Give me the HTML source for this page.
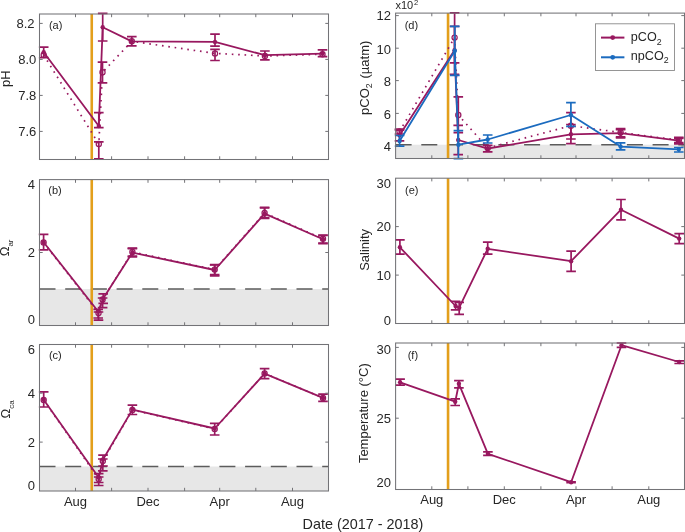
<!DOCTYPE html>
<html><head><meta charset="utf-8"><style>html,body{margin:0;padding:0;background:#fff;}svg{display:block;will-change:transform;}</style></head>
<body>
<svg width="685" height="532" viewBox="0 0 685 532">
<style>text{font-family:"Liberation Sans",sans-serif;fill:#262626}.t{font-size:13px}.pl{font-size:11px}.yl{font-size:13px}</style>
<rect width="685" height="532" fill="#fff"/>
<line x1="91.75" y1="14" x2="91.75" y2="159.5" stroke="#e39f1b" stroke-width="2.6"/>
<path d="M98.8 141.9V158.8M94 141.9H103.6M94 158.8H103.6M102.5 62.1V82.8M97.7 62.1H107.3M97.7 82.8H107.3M215 49.4V60.5M210.2 49.4H219.8M210.2 60.5H219.8" stroke="#98185f" stroke-width="1.7" fill="none"/>
<polyline points="43.7,55 98.8,144 102.5,72.3 131.8,41.3 215,53.4 264.9,56 322.5,54.2" stroke="#98185f" stroke-width="1.7" fill="none" stroke-dasharray="1.6 4.8" />
<circle cx="43.7" cy="55" r="2.6" fill="none" stroke="#98185f" stroke-width="1.2"/>
<circle cx="98.8" cy="144" r="2.6" fill="none" stroke="#98185f" stroke-width="1.2"/>
<circle cx="102.5" cy="72.3" r="2.6" fill="none" stroke="#98185f" stroke-width="1.2"/>
<circle cx="131.8" cy="41.3" r="2.6" fill="none" stroke="#98185f" stroke-width="1.2"/>
<circle cx="215" cy="53.4" r="2.6" fill="none" stroke="#98185f" stroke-width="1.2"/>
<circle cx="264.9" cy="56" r="2.6" fill="none" stroke="#98185f" stroke-width="1.2"/>
<circle cx="322.5" cy="54.2" r="2.6" fill="none" stroke="#98185f" stroke-width="1.2"/>
<path d="M43.7 47.1V57.6M38.9 47.1H48.5M38.9 57.6H48.5M98.8 112.6V127.6M94 112.6H103.6M94 127.6H103.6M102.7 13.4V41M97.9 13.4H107.5M97.9 41H107.5M131.8 36.7V45.9M127 36.7H136.6M127 45.9H136.6M215 34.1V46.1M210.2 34.1H219.8M210.2 46.1H219.8M264.9 51V59.8M260.1 51H269.7M260.1 59.8H269.7M322.5 49.9V56.7M317.7 49.9H327.3M317.7 56.7H327.3" stroke="#98185f" stroke-width="1.7" fill="none"/>
<polyline points="43.7,52.2 98.8,126 102.7,27.2 131.8,41.4 215,41.9 264.9,55.2 322.5,53.6" stroke="#98185f" stroke-width="1.8" fill="none" stroke-linejoin="round"/>
<circle cx="43.7" cy="52.2" r="2.2" fill="#98185f"/>
<circle cx="98.8" cy="126" r="2.2" fill="#98185f"/>
<circle cx="102.7" cy="27.2" r="2.2" fill="#98185f"/>
<circle cx="131.8" cy="41.4" r="2.2" fill="#98185f"/>
<circle cx="215" cy="41.9" r="2.2" fill="#98185f"/>
<circle cx="264.9" cy="55.2" r="2.2" fill="#98185f"/>
<circle cx="322.5" cy="53.6" r="2.2" fill="#98185f"/>
<path d="M75.5 159.5V156.3M75.5 14V17.2M111.6 159.5V156.3M111.6 14V17.2M148 159.5V156.3M148 14V17.2M184.6 159.5V156.3M184.6 14V17.2M219.7 159.5V156.3M219.7 14V17.2M255.8 159.5V156.3M255.8 14V17.2M292.5 159.5V156.3M292.5 14V17.2M39.5 23.4H42.7M328.5 23.4H325.3M39.5 59.4H42.7M328.5 59.4H325.3M39.5 95.4H42.7M328.5 95.4H325.3M39.5 131.4H42.7M328.5 131.4H325.3" stroke="#737377" stroke-width="1" fill="none"/>
<rect x="39.5" y="14" width="289" height="145.5" fill="none" stroke="#737377" stroke-width="1.05"/>
<text x="34.6" y="27.55" text-anchor="end" class="t">8.2</text>
<text x="36.3" y="63.65" text-anchor="end" class="t">8.0</text>
<text x="36.3" y="99.85" text-anchor="end" class="t">7.8</text>
<text x="36.3" y="135.85" text-anchor="end" class="t">7.6</text>
<text x="48.9" y="28.6" class="pl">(a)</text>
<rect x="39.5" y="289" width="289" height="36.5" fill="#e7e7e7"/>
<line x1="39.5" y1="289" x2="328.5" y2="289" stroke="#5c5c5c" stroke-width="1.4" stroke-dasharray="16 9.7"/>
<line x1="91.75" y1="179.6" x2="91.75" y2="325.5" stroke="#e39f1b" stroke-width="2.6"/>
<path d="M98.5 312V320.2M93.7 312H103.3M93.7 320.2H103.3M102.6 298V307.7M97.8 298H107.4M97.8 307.7H107.4M132.4 248.2V256M127.6 248.2H137.2M127.6 256H137.2M214.7 264.6V274.6M209.9 264.6H219.5M209.9 274.6H219.5M264.6 207.3V217.6M259.8 207.3H269.4M259.8 217.6H269.4M323 235V243M318.2 235H327.8M318.2 243H327.8" stroke="#98185f" stroke-width="1.7" fill="none"/>
<polyline points="43.6,242.5 98.5,313 102.6,299.5 132.4,252 214.7,269.6 264.6,213 323,238.8" stroke="#98185f" stroke-width="1.7" fill="none" stroke-dasharray="1.6 4.8" />
<circle cx="43.6" cy="242.5" r="2.6" fill="none" stroke="#98185f" stroke-width="1.2"/>
<circle cx="98.5" cy="313" r="2.6" fill="none" stroke="#98185f" stroke-width="1.2"/>
<circle cx="102.6" cy="299.5" r="2.6" fill="none" stroke="#98185f" stroke-width="1.2"/>
<circle cx="132.4" cy="252" r="2.6" fill="none" stroke="#98185f" stroke-width="1.2"/>
<circle cx="214.7" cy="269.6" r="2.6" fill="none" stroke="#98185f" stroke-width="1.2"/>
<circle cx="264.6" cy="213" r="2.6" fill="none" stroke="#98185f" stroke-width="1.2"/>
<circle cx="323" cy="238.8" r="2.6" fill="none" stroke="#98185f" stroke-width="1.2"/>
<path d="M43.6 234.3V249.8M38.8 234.3H48.4M38.8 249.8H48.4M98.2 309.4V318M93.4 309.4H103M93.4 318H103M103.2 293.8V303.3M98.4 293.8H108M98.4 303.3H108M132.4 248.7V256.8M127.6 248.7H137.2M127.6 256.8H137.2M214.7 265V275.8M209.9 265H219.5M209.9 275.8H219.5M264.6 207.8V218.3M259.8 207.8H269.4M259.8 218.3H269.4M323 235.5V243.7M318.2 235.5H327.8M318.2 243.7H327.8" stroke="#98185f" stroke-width="1.7" fill="none"/>
<polyline points="43.6,242.2 98.2,311.5 103.2,298.6 132.4,252.6 214.7,270 264.6,213.6 323,239.3" stroke="#98185f" stroke-width="1.8" fill="none" stroke-linejoin="round"/>
<circle cx="43.6" cy="242.2" r="2.2" fill="#98185f"/>
<circle cx="98.2" cy="311.5" r="2.2" fill="#98185f"/>
<circle cx="103.2" cy="298.6" r="2.2" fill="#98185f"/>
<circle cx="132.4" cy="252.6" r="2.2" fill="#98185f"/>
<circle cx="214.7" cy="270" r="2.2" fill="#98185f"/>
<circle cx="264.6" cy="213.6" r="2.2" fill="#98185f"/>
<circle cx="323" cy="239.3" r="2.2" fill="#98185f"/>
<path d="M75.5 325.5V322.3M75.5 179.6V182.8M111.6 325.5V322.3M111.6 179.6V182.8M148 325.5V322.3M148 179.6V182.8M184.6 325.5V322.3M184.6 179.6V182.8M219.7 325.5V322.3M219.7 179.6V182.8M255.8 325.5V322.3M255.8 179.6V182.8M292.5 325.5V322.3M292.5 179.6V182.8M39.5 252.5H42.7M328.5 252.5H325.3" stroke="#737377" stroke-width="1" fill="none"/>
<rect x="39.5" y="179.6" width="289" height="145.9" fill="none" stroke="#737377" stroke-width="1.05"/>
<text x="35" y="188.65" text-anchor="end" class="t">4</text>
<text x="35" y="256.85" text-anchor="end" class="t">2</text>
<text x="35" y="323.95" text-anchor="end" class="t">0</text>
<text x="48.3" y="194.3" class="pl">(b)</text>
<rect x="39.5" y="466.5" width="289" height="24.5" fill="#e7e7e7"/>
<line x1="39.5" y1="466.5" x2="328.5" y2="466.5" stroke="#5c5c5c" stroke-width="1.4" stroke-dasharray="16 9.7"/>
<line x1="91.75" y1="344.5" x2="91.75" y2="491" stroke="#e39f1b" stroke-width="2.6"/>
<path d="M98.7 477V485.5M93.9 477H103.5M93.9 485.5H103.5M102.8 459V470.8M98 459H107.6M98 470.8H107.6" stroke="#98185f" stroke-width="1.7" fill="none"/>
<polyline points="43.7,400 98.7,479 102.8,461 132.4,409.9 214.7,428.9 264.6,373.4 323,397.9" stroke="#98185f" stroke-width="1.7" fill="none" stroke-dasharray="1.6 4.8" />
<circle cx="43.7" cy="400" r="2.6" fill="none" stroke="#98185f" stroke-width="1.2"/>
<circle cx="98.7" cy="479" r="2.6" fill="none" stroke="#98185f" stroke-width="1.2"/>
<circle cx="102.8" cy="461" r="2.6" fill="none" stroke="#98185f" stroke-width="1.2"/>
<circle cx="132.4" cy="409.9" r="2.6" fill="none" stroke="#98185f" stroke-width="1.2"/>
<circle cx="214.7" cy="428.9" r="2.6" fill="none" stroke="#98185f" stroke-width="1.2"/>
<circle cx="264.6" cy="373.4" r="2.6" fill="none" stroke="#98185f" stroke-width="1.2"/>
<circle cx="323" cy="397.9" r="2.6" fill="none" stroke="#98185f" stroke-width="1.2"/>
<path d="M43.7 391.8V407M38.9 391.8H48.5M38.9 407H48.5M98.7 473.7V482.5M93.9 473.7H103.5M93.9 482.5H103.5M103 455.2V466M98.2 455.2H107.8M98.2 466H107.8M132.4 405.2V414.5M127.6 405.2H137.2M127.6 414.5H137.2M214.7 423.3V435M209.9 423.3H219.5M209.9 435H219.5M264.6 368.7V378.6M259.8 368.7H269.4M259.8 378.6H269.4M323 394.1V401.4M318.2 394.1H327.8M318.2 401.4H327.8" stroke="#98185f" stroke-width="1.7" fill="none"/>
<polyline points="43.7,399.7 98.7,477.5 103,459.5 132.4,409.6 214.7,428.5 264.6,373.7 323,397.9" stroke="#98185f" stroke-width="1.8" fill="none" stroke-linejoin="round"/>
<circle cx="43.7" cy="399.7" r="2.2" fill="#98185f"/>
<circle cx="98.7" cy="477.5" r="2.2" fill="#98185f"/>
<circle cx="103" cy="459.5" r="2.2" fill="#98185f"/>
<circle cx="132.4" cy="409.6" r="2.2" fill="#98185f"/>
<circle cx="214.7" cy="428.5" r="2.2" fill="#98185f"/>
<circle cx="264.6" cy="373.7" r="2.2" fill="#98185f"/>
<circle cx="323" cy="397.9" r="2.2" fill="#98185f"/>
<path d="M75.5 491V487.8M75.5 344.5V347.7M111.6 491V487.8M111.6 344.5V347.7M148 491V487.8M148 344.5V347.7M184.6 491V487.8M184.6 344.5V347.7M219.7 491V487.8M219.7 344.5V347.7M255.8 491V487.8M255.8 344.5V347.7M292.5 491V487.8M292.5 344.5V347.7M39.5 393.2H42.7M328.5 393.2H325.3M39.5 442.1H42.7M328.5 442.1H325.3" stroke="#737377" stroke-width="1" fill="none"/>
<rect x="39.5" y="344.5" width="289" height="146.5" fill="none" stroke="#737377" stroke-width="1.05"/>
<text x="35" y="353.95" text-anchor="end" class="t">6</text>
<text x="35" y="397.85" text-anchor="end" class="t">4</text>
<text x="35" y="446.55" text-anchor="end" class="t">2</text>
<text x="35" y="490.05" text-anchor="end" class="t">0</text>
<text x="48.9" y="359.4" class="pl">(c)</text>
<rect x="395.6" y="144.7" width="288.9" height="13.8" fill="#e7e7e7"/>
<line x1="395.6" y1="144.7" x2="684.5" y2="144.7" stroke="#5c5c5c" stroke-width="1.4" stroke-dasharray="16 9.7"/>
<line x1="448.05" y1="13.1" x2="448.05" y2="158.5" stroke="#e39f1b" stroke-width="2.6"/>
<path d="M399.5 129.2V134M394.7 129.2H404.3M394.7 134H404.3M454.6 12.9V62.8M449.8 12.9H459.4M449.8 62.8H459.4M458.3 96.8V132.6M453.5 96.8H463.1M453.5 132.6H463.1M570.9 112.6V139M566.1 112.6H575.7M566.1 139H575.7M620.6 129.6V136.8M615.8 129.6H625.4M615.8 136.8H625.4M678.8 137.4V142.6M674 137.4H683.6M674 142.6H683.6" stroke="#98185f" stroke-width="1.7" fill="none"/>
<polyline points="399.5,131.5 454.6,37.6 458.3,115 487.7,148 570.9,125.7 620.6,132.5 678.8,140.2" stroke="#98185f" stroke-width="1.7" fill="none" stroke-dasharray="1.6 4.8" />
<circle cx="399.5" cy="131.5" r="2.6" fill="none" stroke="#98185f" stroke-width="1.2"/>
<circle cx="454.6" cy="37.6" r="2.6" fill="none" stroke="#98185f" stroke-width="1.2"/>
<circle cx="458.3" cy="115" r="2.6" fill="none" stroke="#98185f" stroke-width="1.2"/>
<circle cx="487.7" cy="148" r="2.6" fill="none" stroke="#98185f" stroke-width="1.2"/>
<circle cx="570.9" cy="125.7" r="2.6" fill="none" stroke="#98185f" stroke-width="1.2"/>
<circle cx="620.6" cy="132.5" r="2.6" fill="none" stroke="#98185f" stroke-width="1.2"/>
<circle cx="678.8" cy="140.2" r="2.6" fill="none" stroke="#98185f" stroke-width="1.2"/>
<path d="M399.5 130.2V140.9M394.7 130.2H404.3M394.7 140.9H404.3M454.5 26.3V74.3M449.7 26.3H459.3M449.7 74.3H459.3M458.2 125.3V154.7M453.4 125.3H463M453.4 154.7H463M487.7 145.4V151.8M482.9 145.4H492.5M482.9 151.8H492.5M570.9 124.5V143.6M566.1 124.5H575.7M566.1 143.6H575.7M620.6 128.7V137.8M615.8 128.7H625.4M615.8 137.8H625.4M678.8 138.4V143.8M674 138.4H683.6M674 143.8H683.6" stroke="#98185f" stroke-width="1.7" fill="none"/>
<polyline points="399.5,135.3 454.5,50.3 458.2,140 487.7,148.6 570.9,134.3 620.6,133.2 678.8,140.7" stroke="#98185f" stroke-width="1.8" fill="none" stroke-linejoin="round"/>
<circle cx="399.5" cy="135.3" r="2.2" fill="#98185f"/>
<circle cx="454.5" cy="50.3" r="2.2" fill="#98185f"/>
<circle cx="458.2" cy="140" r="2.2" fill="#98185f"/>
<circle cx="487.7" cy="148.6" r="2.2" fill="#98185f"/>
<circle cx="570.9" cy="134.3" r="2.2" fill="#98185f"/>
<circle cx="620.6" cy="133.2" r="2.2" fill="#98185f"/>
<circle cx="678.8" cy="140.7" r="2.2" fill="#98185f"/>
<path d="M399.6 135.5V146.2M394.8 135.5H404.4M394.8 146.2H404.4M454.8 26.3V75.3M450 26.3H459.6M450 75.3H459.6M458.4 130.6V158.6M453.6 130.6H463.2M453.6 158.6H463.2M487.7 135V143M482.9 135H492.5M482.9 143H492.5M570.9 102.7V126.4M566.1 102.7H575.7M566.1 126.4H575.7M620.6 142.9V149.9M615.8 142.9H625.4M615.8 149.9H625.4M678.8 147.5V152M674 147.5H683.6M674 152H683.6" stroke="#1b6bbf" stroke-width="1.7" fill="none"/>
<polyline points="399.6,141 454.8,50.8 458.4,144.7 487.7,139.5 570.9,115 620.6,146.6 678.8,149.3" stroke="#1b6bbf" stroke-width="1.8" fill="none" stroke-linejoin="round"/>
<circle cx="399.6" cy="141" r="2.2" fill="#1b6bbf"/>
<circle cx="454.8" cy="50.8" r="2.2" fill="#1b6bbf"/>
<circle cx="458.4" cy="144.7" r="2.2" fill="#1b6bbf"/>
<circle cx="487.7" cy="139.5" r="2.2" fill="#1b6bbf"/>
<circle cx="570.9" cy="115" r="2.2" fill="#1b6bbf"/>
<circle cx="620.6" cy="146.6" r="2.2" fill="#1b6bbf"/>
<circle cx="678.8" cy="149.3" r="2.2" fill="#1b6bbf"/>
<path d="M431.8 158.5V155.3M431.8 13.1V16.3M467.9 158.5V155.3M467.9 13.1V16.3M504.3 158.5V155.3M504.3 13.1V16.3M540.9 158.5V155.3M540.9 13.1V16.3M576 158.5V155.3M576 13.1V16.3M612.1 158.5V155.3M612.1 13.1V16.3M648.8 158.5V155.3M648.8 13.1V16.3M395.6 15.6H398.8M684.5 15.6H681.3M395.6 48.2H398.8M684.5 48.2H681.3M395.6 80.6H398.8M684.5 80.6H681.3M395.6 113.4H398.8M684.5 113.4H681.3M395.6 146H398.8M684.5 146H681.3" stroke="#737377" stroke-width="1" fill="none"/>
<rect x="395.6" y="13.1" width="288.9" height="145.4" fill="none" stroke="#737377" stroke-width="1.05"/>
<text x="391" y="20.45" text-anchor="end" class="t">12</text>
<text x="391" y="53.65" text-anchor="end" class="t">10</text>
<text x="391" y="85.55" text-anchor="end" class="t">8</text>
<text x="391" y="119.05" text-anchor="end" class="t">6</text>
<text x="391" y="151.15" text-anchor="end" class="t">4</text>
<text x="404.7" y="28.7" class="pl">(d)</text>
<text x="395.5" y="9.1" style="font-size:11px">x10</text>
<text x="413.9" y="4.7" style="font-size:7.6px">2</text>
<rect x="595.5" y="23.8" width="79" height="46.7" fill="#fff" stroke="#8a8a8a" stroke-width="0.9"/>
<line x1="601" y1="37.6" x2="624.4" y2="37.6" stroke="#98185f" stroke-width="2"/>
<circle cx="612.7" cy="37.6" r="2.4" fill="#98185f"/>
<line x1="601" y1="57.3" x2="624.4" y2="57.3" stroke="#1b6bbf" stroke-width="2"/>
<circle cx="612.7" cy="57.3" r="2.4" fill="#1b6bbf"/>
<text x="630.8" y="41.3" style="font-size:12.6px">pCO<tspan style="font-size:8.8px" dy="3.4">2</tspan></text>
<text x="630.8" y="59.9" style="font-size:12.6px">npCO<tspan style="font-size:8.8px" dy="3.4">2</tspan></text>
<line x1="448.05" y1="178.2" x2="448.05" y2="323.5" stroke="#e39f1b" stroke-width="2.6"/>
<path d="M399.9 239.8V254.2M395.1 239.8H404.7M395.1 254.2H404.7M455.6 301.4V309.8M450.8 301.4H460.4M450.8 309.8H460.4M459.2 302.3V314.4M454.4 302.3H464M454.4 314.4H464M487.7 242.2V254.2M482.9 242.2H492.5M482.9 254.2H492.5M571.1 251.1V271.4M566.3 251.1H575.9M566.3 271.4H575.9M621 199.5V219.8M616.2 199.5H625.8M616.2 219.8H625.8M679.2 233.7V243.6M674.4 233.7H684M674.4 243.6H684" stroke="#98185f" stroke-width="1.7" fill="none"/>
<polyline points="399.9,247.3 455.6,306 459.2,307.7 487.7,248.8 571.1,261.2 621,209.7 679.2,238.6" stroke="#98185f" stroke-width="1.8" fill="none" stroke-linejoin="round"/>
<circle cx="399.9" cy="247.3" r="2.2" fill="#98185f"/>
<circle cx="455.6" cy="306" r="2.2" fill="#98185f"/>
<circle cx="459.2" cy="307.7" r="2.2" fill="#98185f"/>
<circle cx="487.7" cy="248.8" r="2.2" fill="#98185f"/>
<circle cx="571.1" cy="261.2" r="2.2" fill="#98185f"/>
<circle cx="621" cy="209.7" r="2.2" fill="#98185f"/>
<circle cx="679.2" cy="238.6" r="2.2" fill="#98185f"/>
<path d="M431.8 323.5V320.3M431.8 178.2V181.4M467.9 323.5V320.3M467.9 178.2V181.4M504.3 323.5V320.3M504.3 178.2V181.4M540.9 323.5V320.3M540.9 178.2V181.4M576 323.5V320.3M576 178.2V181.4M612.1 323.5V320.3M612.1 178.2V181.4M648.8 323.5V320.3M648.8 178.2V181.4M395.6 226.6H398.8M684.5 226.6H681.3M395.6 275.1H398.8M684.5 275.1H681.3" stroke="#737377" stroke-width="1" fill="none"/>
<rect x="395.6" y="178.2" width="288.9" height="145.3" fill="none" stroke="#737377" stroke-width="1.05"/>
<text x="391" y="188.45" text-anchor="end" class="t">30</text>
<text x="391" y="231.05" text-anchor="end" class="t">20</text>
<text x="391" y="279.65" text-anchor="end" class="t">10</text>
<text x="391" y="324.65" text-anchor="end" class="t">0</text>
<text x="405.1" y="194.4" class="pl">(e)</text>
<line x1="448.05" y1="343" x2="448.05" y2="489.5" stroke="#e39f1b" stroke-width="2.6"/>
<path d="M400.1 379.1V385.2M395.3 379.1H404.9M395.3 385.2H404.9M455.2 398.8V405.5M450.4 398.8H460M450.4 405.5H460M458.9 380.6V387.8M454.1 380.6H463.7M454.1 387.8H463.7M487.9 451.8V455.3M483.1 451.8H492.7M483.1 455.3H492.7M571.1 481.9V482.7M566.3 481.9H575.9M566.3 482.7H575.9M621.5 343V347.3M616.7 343H626.3M616.7 347.3H626.3M679.2 360.9V363.5M674.4 360.9H684M674.4 363.5H684" stroke="#98185f" stroke-width="1.7" fill="none"/>
<polyline points="400.1,382.3 455.2,401.7 458.9,383.8 487.9,453.8 571.1,482.2 621.5,345.2 679.2,362" stroke="#98185f" stroke-width="1.8" fill="none" stroke-linejoin="round"/>
<circle cx="400.1" cy="382.3" r="2.2" fill="#98185f"/>
<circle cx="455.2" cy="401.7" r="2.2" fill="#98185f"/>
<circle cx="458.9" cy="383.8" r="2.2" fill="#98185f"/>
<circle cx="487.9" cy="453.8" r="2.2" fill="#98185f"/>
<circle cx="571.1" cy="482.2" r="2.2" fill="#98185f"/>
<circle cx="621.5" cy="345.2" r="2.2" fill="#98185f"/>
<circle cx="679.2" cy="362" r="2.2" fill="#98185f"/>
<path d="M431.8 489.5V486.3M431.8 343V346.2M467.9 489.5V486.3M467.9 343V346.2M504.3 489.5V486.3M504.3 343V346.2M540.9 489.5V486.3M540.9 343V346.2M576 489.5V486.3M576 343V346.2M612.1 489.5V486.3M612.1 343V346.2M648.8 489.5V486.3M648.8 343V346.2M395.6 347.4H398.8M684.5 347.4H681.3M395.6 418.2H398.8M684.5 418.2H681.3" stroke="#737377" stroke-width="1" fill="none"/>
<rect x="395.6" y="343" width="288.9" height="146.5" fill="none" stroke="#737377" stroke-width="1.05"/>
<text x="391" y="354.15" text-anchor="end" class="t">30</text>
<text x="391" y="422.85" text-anchor="end" class="t">25</text>
<text x="391" y="486.65" text-anchor="end" class="t">20</text>
<text x="407.7" y="359.4" class="pl">(f)</text>
<text x="75.5" y="505.9" text-anchor="middle" class="t">Aug</text>
<text x="148" y="505.9" text-anchor="middle" class="t">Dec</text>
<text x="219.7" y="505.9" text-anchor="middle" class="t">Apr</text>
<text x="292.5" y="505.9" text-anchor="middle" class="t">Aug</text>
<text x="431.8" y="504.3" text-anchor="middle" class="t">Aug</text>
<text x="504.3" y="504.3" text-anchor="middle" class="t">Dec</text>
<text x="576" y="504.3" text-anchor="middle" class="t">Apr</text>
<text x="648.8" y="504.3" text-anchor="middle" class="t">Aug</text>
<text x="363" y="528.5" text-anchor="middle" style="font-size:14.4px">Date (2017 - 2018)</text>
<text transform="translate(9.6 78.6) rotate(-90)" text-anchor="middle" class="yl">pH</text>
<text transform="translate(368.7 249.9) rotate(-90)" text-anchor="middle" class="yl">Salinity</text>
<text transform="translate(368 413.2) rotate(-90)" text-anchor="middle" class="yl">Temperature (°C)</text>
<text transform="translate(369.2 114.9) rotate(-90)" class="yl">pCO<tspan style="font-size:8.8px" dy="3.2">2</tspan><tspan dy="-3.2" dx="1.2"> (µatm)</tspan></text>
<text transform="translate(9.0 256.3) rotate(-90)" class="yl">Ω<tspan style="font-size:8px" dy="4.2">ar</tspan></text>
<text transform="translate(9.6 418.4) rotate(-90)" class="yl">Ω<tspan style="font-size:8px" dy="4.2">ca</tspan></text>
</svg>
</body></html>
